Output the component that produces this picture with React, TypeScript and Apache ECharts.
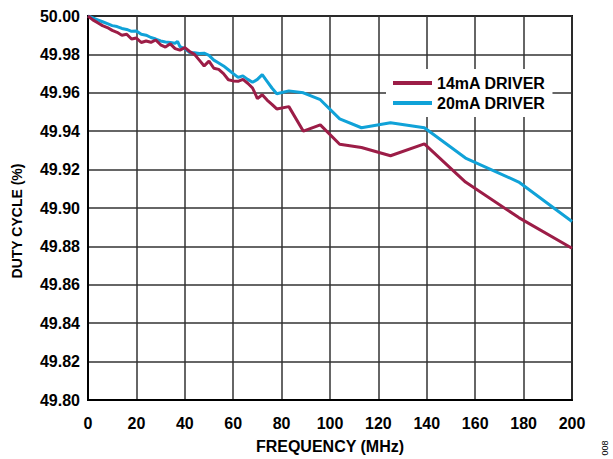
import React, { useEffect, useRef } from "react";
import * as echarts from "echarts";

const seriesNames = ["14mA DRIVER", "20mA DRIVER"];
const seriesColors = ["#9c1d47", "#10a2d8"];

const freq14 = [0, 2, 4, 6, 8, 10, 12, 14, 16, 18, 20, 22, 24, 26, 28, 30, 32, 34, 36, 38, 40, 42, 44, 46, 48, 50, 52, 54, 56, 58, 60, 62, 64, 66, 68, 70, 72, 74, 76, 78, 83, 89, 96, 104, 113, 125, 139, 156, 178, 200];
const duty14 = [50.0, 49.998, 49.9965, 49.995, 49.994, 49.9925, 49.9915, 49.99, 49.9905, 49.988, 49.9885, 49.9862, 49.987, 49.9863, 49.9875, 49.985, 49.9838, 49.9855, 49.983, 49.9822, 49.9835, 49.9815, 49.98, 49.977, 49.974, 49.9765, 49.9728, 49.9722, 49.97, 49.9668, 49.9662, 49.966, 49.967, 49.965, 49.9625, 49.957, 49.959, 49.9562, 49.954, 49.9516, 49.9528, 49.94, 49.9433, 49.9332, 49.9315, 49.9272, 49.9334, 49.9135, 49.895, 49.879];

const freq20 = [0, 2, 4, 6, 8, 10, 12, 14, 16, 18, 20, 22, 24, 26, 28, 30, 32, 34, 36, 37, 38, 40, 42, 44, 46, 48, 50, 52, 54, 56, 58, 60, 62, 64, 66, 68, 70, 72, 74, 76, 78, 83, 89, 96, 104, 113, 125, 139, 156, 178, 200];
const duty20 = [50.0, 49.999, 49.998, 49.997, 49.996, 49.995, 49.9945, 49.9935, 49.993, 49.992, 49.9922, 49.9905, 49.99, 49.9888, 49.988, 49.987, 49.9865, 49.9862, 49.9858, 49.9868, 49.984, 49.983, 49.981, 49.9808, 49.9805, 49.9806, 49.9795, 49.977, 49.9755, 49.974, 49.972, 49.97, 49.968, 49.9688, 49.967, 49.9655, 49.967, 49.9695, 49.966, 49.9625, 49.9595, 49.961, 49.96, 49.9564, 49.9464, 49.9418, 49.9444, 49.9418, 49.926, 49.9135, 49.893];

const xTitle = "FREQUENCY (MHz)";
const yTitle = "DUTY CYCLE (%)";
const figureId = "008";

const FONT = "'Liberation Sans', Arial, sans-serif";

export default function App() {
  const ref = useRef<HTMLDivElement>(null);
  useEffect(() => {
    if (!ref.current) return;
    const chart = echarts.init(ref.current, null, { renderer: "svg" });
    const pairs = (xs: number[], ys: number[]) => xs.map((x, i) => [x, ys[i]]);
    chart.setOption({
      animation: false,
      backgroundColor: "#ffffff",
      grid: {
        left: 88,
        right: 41,
        top: 16,
        bottom: 55,
        show: true,
        borderColor: "#111",
        borderWidth: 2,
        backgroundColor: "transparent",
      },
      xAxis: {
        type: "value",
        min: 0,
        max: 200,
        interval: 20,
        axisLine: { show: true, lineStyle: { color: "#000", width: 2 } },
        axisTick: { show: false },
        splitLine: { show: true, lineStyle: { color: "#333", width: 1.5 } },
        axisLabel: {
          margin: 15,
          color: "#000",
          fontFamily: FONT,
          fontWeight: "bold",
          fontSize: 16,
        },
        name: xTitle,
        nameLocation: "middle",
        nameGap: 38,
        nameTextStyle: { color: "#000", fontFamily: FONT, fontWeight: "bold", fontSize: 16 },
      },
      yAxis: {
        type: "value",
        min: 49.8,
        max: 50.0,
        interval: 0.02,
        axisLine: { show: true, lineStyle: { color: "#000", width: 2 } },
        axisTick: { show: false },
        splitLine: { show: true, lineStyle: { color: "#333", width: 1.5 } },
        axisLabel: {
          margin: 8,
          color: "#000",
          fontFamily: FONT,
          fontWeight: "bold",
          fontSize: 16,
          formatter: (v: number) => v.toFixed(2),
        },
      },
      legend: {
        data: seriesNames,
        orient: "vertical",
        left: 386,
        top: 69,
        padding: [6, 7, 6, 7],
        itemGap: 4,
        itemWidth: 39,
        itemHeight: 4,
        icon: "rect",
        backgroundColor: "#ffffff",
        textStyle: { color: "#000", fontFamily: FONT, fontWeight: "bold", fontSize: 16 },
      },
      graphic: [
        {
          type: "text",
          x: 17,
          y: 221,
          rotation: Math.PI / 2,
          style: {
            text: yTitle,
            fill: "#000",
            font: `bold 14px ${FONT}`,
            align: "center",
            verticalAlign: "middle",
          },
        },
        {
          type: "text",
          x: 605,
          y: 448,
          rotation: Math.PI / 2,
          style: {
            text: figureId,
            fill: "#000",
            font: `9px ${FONT}`,
            align: "center",
            verticalAlign: "middle",
          },
        },
      ],
      series: [
        {
          name: seriesNames[0],
          type: "line",
          data: pairs(freq14, duty14),
          showSymbol: false,
          symbol: "none",
          lineStyle: { color: seriesColors[0], width: 3 },
          itemStyle: { color: seriesColors[0] },
        },
        {
          name: seriesNames[1],
          type: "line",
          data: pairs(freq20, duty20),
          showSymbol: false,
          symbol: "none",
          lineStyle: { color: seriesColors[1], width: 3 },
          itemStyle: { color: seriesColors[1] },
          z: 1,
        },
      ],
    });
    return () => chart.dispose();
  }, []);
  return <div ref={ref} style={{ width: 613, height: 459, position: "absolute", left: 0, top: 0 }} />;
}
